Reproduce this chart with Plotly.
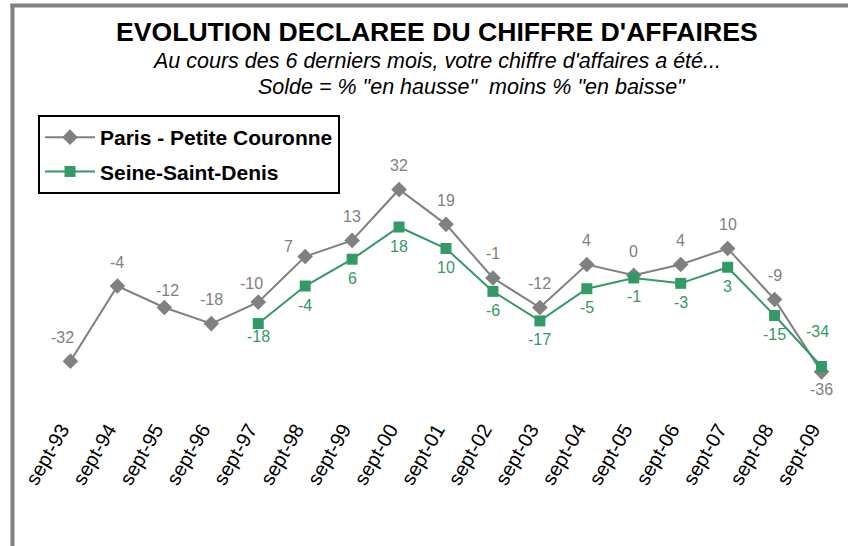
import plotly.graph_objects as go

categories = ["sept-93", "sept-94", "sept-95", "sept-96", "sept-97", "sept-98", "sept-99",
              "sept-00", "sept-01", "sept-02", "sept-03", "sept-04", "sept-05", "sept-06",
              "sept-07", "sept-08", "sept-09"]
paris = [-32, -4, -12, -18, -10, 7, 13, 32, 19, -1, -12, 4, 0, 4, 10, -9, -36]
ssd_categories = categories[4:]
ssd = [-18, -4, 6, 18, 10, -6, -17, -5, -1, -3, 3, -15, -34]

GRAY = "#808080"
GREEN = "#339966"
FONT = "Liberation Sans, Arial, sans-serif"

W, H = 848, 546
L, R, T, B = 47, 3, 168, 150
PW, PH = W - L - R, H - T - B


def px(x):
    return (x - L) / PW


def py(y):
    return (H - B - y) / PH


fig = go.Figure()
fig.add_trace(go.Scatter(
    x=categories, y=paris, name="Paris - Petite Couronne",
    mode="lines+markers",
    line=dict(color=GRAY, width=2),
    marker=dict(symbol="diamond", size=12, color=GRAY),
    legendgroup="a", cliponaxis=False,
))
fig.add_trace(go.Scatter(
    x=ssd_categories, y=ssd, name="Seine-Saint-Denis",
    mode="lines+markers",
    line=dict(color=GREEN, width=2),
    marker=dict(symbol="square", size=11, color=GREEN),
    legendgroup="b", cliponaxis=False,
))

# data labels (label placement mimics the original chart)
paris_shift = {0: (-8, 24), 2: (3, 17), 4: (-7, 19), 5: (-17, 10), 16: (0, -18)}
ssd_shift = {0: (0, -13), len(ssd) - 1: (-4, 35)}

annotations = []
for i, (c, v) in enumerate(zip(categories, paris)):
    dx, dy = paris_shift.get(i, (0, 24))
    annotations.append(dict(x=c, y=v, xref="x", yref="y", text=str(v), showarrow=False,
                            xshift=dx, yshift=dy, xanchor="center", yanchor="middle",
                            font=dict(family=FONT, size=16, color=GRAY)))
for i, (c, v) in enumerate(zip(ssd_categories, ssd)):
    dx, dy = ssd_shift.get(i, (0, -19))
    annotations.append(dict(x=c, y=v, xref="x", yref="y", text=str(v), showarrow=False,
                            xshift=dx, yshift=dy, xanchor="center", yanchor="middle",
                            font=dict(family=FONT, size=16, color=GREEN)))

annotations += [
    dict(text="<b>EVOLUTION DECLAREE DU CHIFFRE D'AFFAIRES</b>", x=px(437), y=py(32),
         xref="paper", yref="paper", showarrow=False, xanchor="center", yanchor="middle",
         font=dict(family=FONT, size=26.6, color="black")),
    dict(text="<i>Au cours des 6 derniers mois, votre chiffre d'affaires a été...</i>",
         x=px(436), y=py(61), xref="paper", yref="paper", showarrow=False,
         xanchor="center", yanchor="middle", font=dict(family=FONT, size=21.5, color="black")),
    dict(text="<i>Solde = % \"en hausse\"  moins % \"en baisse\"</i>",
         x=px(472), y=py(87), xref="paper", yref="paper", showarrow=False,
         xanchor="center", yanchor="middle", font=dict(family=FONT, size=21.5, color="black")),
]

fig.update_layout(
    width=W, height=H,
    margin=dict(l=L, r=R, t=T, b=B, pad=0),
    paper_bgcolor="white", plot_bgcolor="white",
    font=dict(family=FONT, color="black"),
    showlegend=True,
    legend=dict(
        x=px(38), y=py(115), xanchor="left", yanchor="top",
        bordercolor="black", borderwidth=2, bgcolor="white",
        font=dict(family=FONT, size=21, color="black", weight="bold"),
        traceorder="grouped", tracegroupgap=4, itemwidth=50, entrywidth=260,
    ),
    xaxis=dict(
        type="category", categoryorder="array", categoryarray=categories,
        range=[-0.5, len(categories) - 0.5],
        showgrid=False, zeroline=False, showline=False, ticks="",
        tickangle=-60, tickfont=dict(family=FONT, size=20, color="black"),
        ticklabelstandoff=17, ticklabelshift=-9,
    ),
    yaxis=dict(range=[-45, 40], visible=False),
    annotations=annotations,
    shapes=[
        dict(type="line", xref="paper", yref="paper", x0=px(12.5), x1=px(12.5),
             y0=py(4), y1=py(546), line=dict(color=GRAY, width=4)),
        dict(type="line", xref="paper", yref="paper", x0=px(10.5), x1=px(848),
             y0=py(5.5), y1=py(5.5), line=dict(color=GRAY, width=4)),
    ],
)

fig.write_html("out.html", config={"displayModeBar": False},
               post_script="document.body.style.margin='0px';")
